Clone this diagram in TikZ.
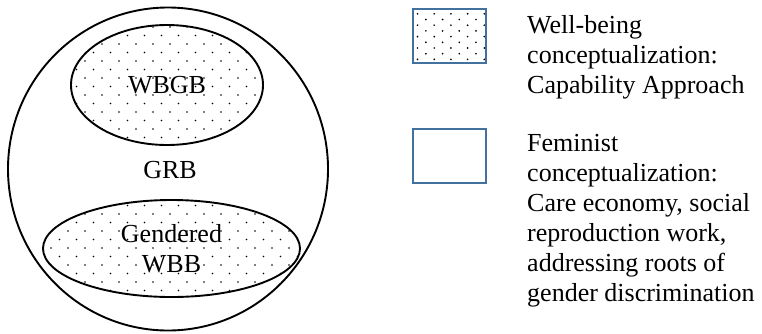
\documentclass[tikz,border=0pt]{standalone}
\usepackage{fontspec}
\setmainfont{Liberation Serif}
\usetikzlibrary{shapes.geometric,patterns}

% staggered dot fill for the well-being areas
\pgfdeclarepatternformonly{areadots}{\pgfqpoint{-1pt}{-1pt}}{\pgfqpoint{10pt}{10pt}}{\pgfqpoint{17pt}{17pt}}{%
  \pgfpathcircle{\pgfqpoint{0pt}{0pt}}{0.95pt}%
  \pgfpathcircle{\pgfqpoint{8.5pt}{8.5pt}}{0.95pt}%
  \pgfusepath{fill}}
% denser variant for the legend swatch
\pgfdeclarepatternformonly{keydots}{\pgfqpoint{-1pt}{-1pt}}{\pgfqpoint{10pt}{7pt}}{\pgfqpoint{16.7pt}{11.4pt}}{%
  \pgfpathcircle{\pgfqpoint{0pt}{0pt}}{0.95pt}%
  \pgfpathcircle{\pgfqpoint{8.35pt}{5.7pt}}{0.95pt}%
  \pgfusepath{fill}}

\definecolor{keyblue}{HTML}{41719C}

\tikzset{
  txt/.style={font=\fontsize{26}{30}\selectfont, inner sep=0pt},
  region/.style={ellipse, draw=black, line width=1.9pt, inner sep=0pt, txt, align=center},
  dotted region/.style={region, pattern=areadots, pattern color=black},
  keybox/.style={rectangle, draw=keyblue, line width=2pt, minimum width=73pt, minimum height=54pt},
}

\begin{document}
\begin{tikzpicture}[x=1pt, y=-1pt]
  \useasboundingbox (0,0) rectangle (762,333);

  % nested budgeting regions
  \node[region, minimum width=320pt, minimum height=323pt] (grbarea) at (168,169) {};
  \node[dotted region, minimum width=192pt, minimum height=120pt] (wbgb) at (167,85) {WBGB};
  \node[dotted region, minimum width=257pt, minimum height=97pt] (gwbb) at (171.5,248.5) {Gendered\\WBB};
  \node[txt] (grb) at (170,170) {GRB};

  % legend (multi-line nodes sit on the baseline of their last line)
  \node[keybox, pattern=keydots, pattern color=black] (keyA) at (449.3,36.2) {};
  \node[keybox] (keyB) at (449.3,156.3) {};
  \node[txt, anchor=base west, align=left] (legA) at (527,93)
    {Well-being\\conceptualization:\\Capability Approach};
  \node[txt, anchor=base west, align=left] (legB) at (527,301.7)
    {Feminist\\conceptualization:\\Care economy, social\\reproduction work,\\addressing roots of\\gender discrimination};
\end{tikzpicture}
\end{document}
